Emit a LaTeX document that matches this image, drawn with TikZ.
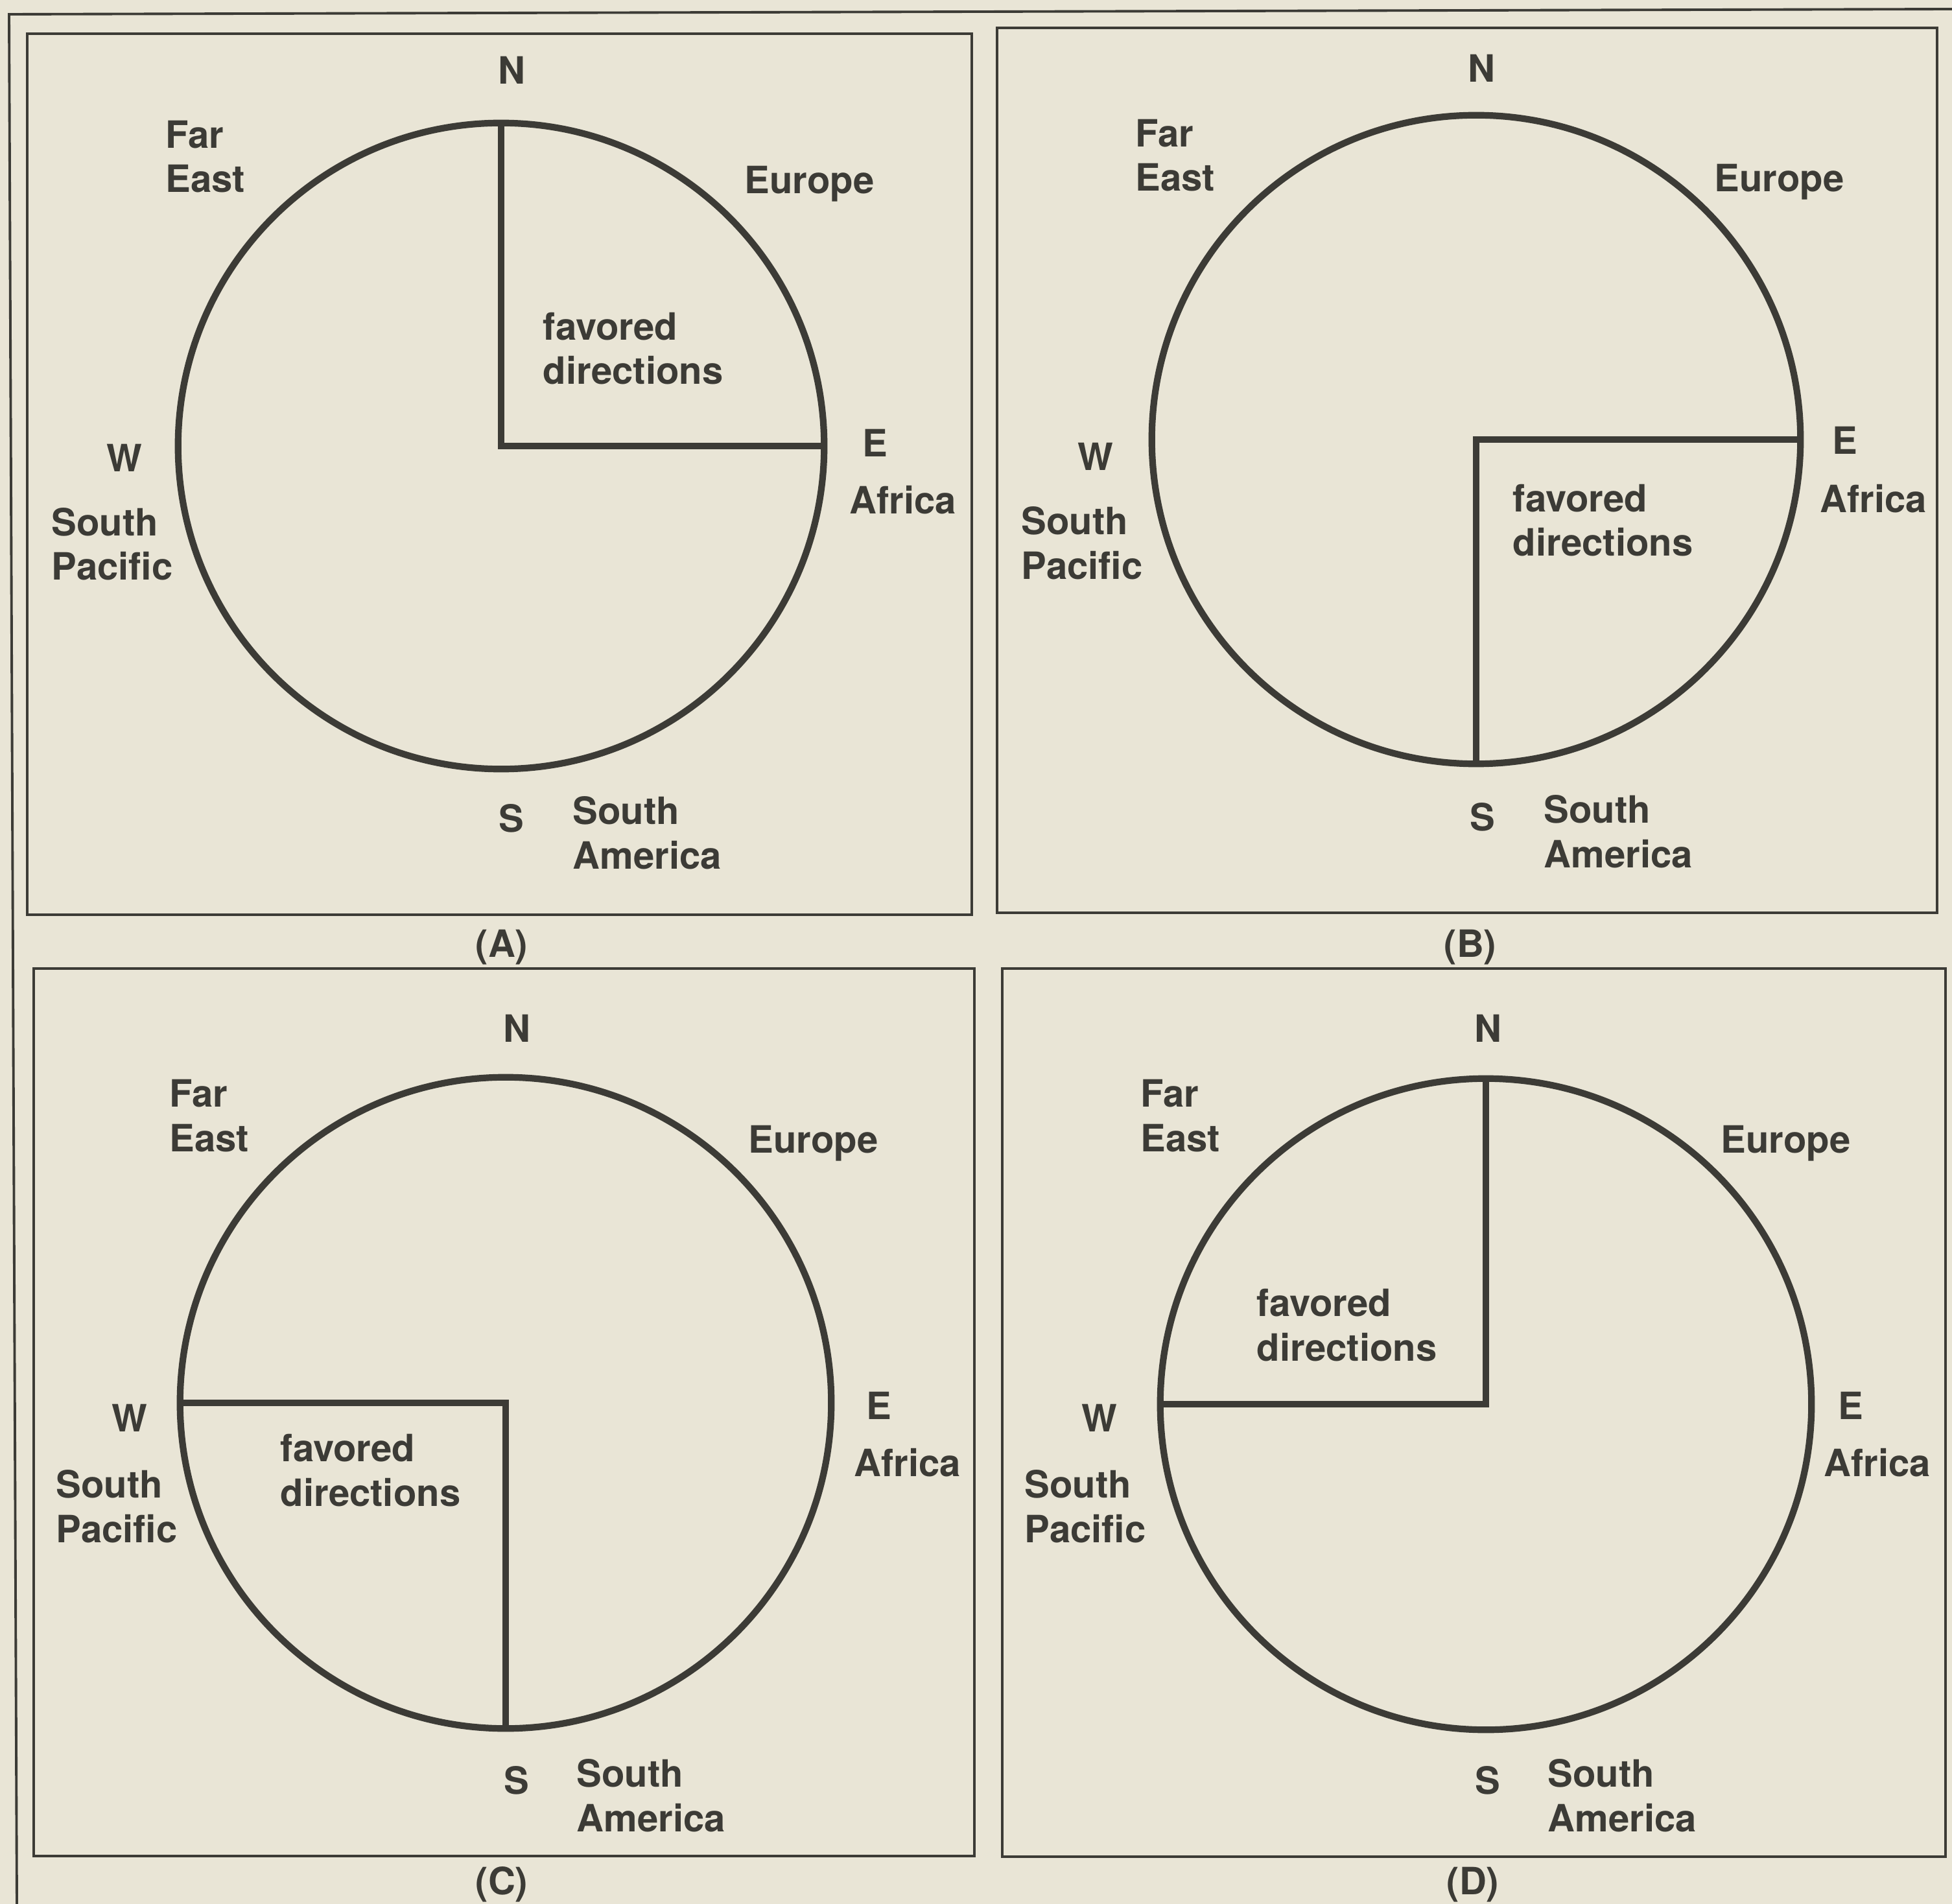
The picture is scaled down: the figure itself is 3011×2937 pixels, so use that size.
\documentclass[tikz,border=0pt]{standalone}
\usepackage{fontspec}
\setmainfont{TeX Gyre Heros}
\definecolor{paper}{RGB}{233,229,214}
\definecolor{ink}{RGB}{60,59,54}
\begin{document}
\begin{tikzpicture}[x=0.01cm,y=-0.01cm,
  lbl/.style={inner sep=0pt, anchor=base, font=\fontsize{16.5}{19.6}\selectfont\bfseries, text=ink},
  lblw/.style={lbl, anchor=base west, align=left},
  panelbox/.style={draw=ink, line width=1.4pt},
  framebox/.style={draw=ink, line width=1.1pt},
  dial/.style={draw=ink, line width=2.9pt},
  sector/.style={draw=ink, line width=2.9pt, line join=miter}]
\fill[paper] (0,0) rectangle (3011,2937);
\useasboundingbox (0,0) rectangle (3011,2937);
% outer frame (top and left edges)
\draw[framebox] (3011,14) -- (14,22) -- (26,2937);
% panel boxes
\draw[panelbox] (42,52) rectangle (1499,1411);
\draw[panelbox] (1538,43) rectangle (2988,1408);
\draw[panelbox] (52,1494) rectangle (1503,2863);
\draw[panelbox] (1546,1494) rectangle (3001,2864);
% panel labels
\node[lbl] (labA) at (774,1476) {(A)};
\node[lbl] (labB) at (2268,1476) {(B)};
\node[lbl] (labC) at (774,2922) {(C)};
\node[lbl] (labD) at (2272,2922) {(D)};

% ---------- Panel A ----------
\coordinate (Ac) at (773,688);
\draw[dial] (Ac) circle[radius=4.98cm];
\draw[sector] (Ac) ++(0,-498) -- (Ac) -- ++(498,0);
\node[lbl] (AN) at (789,130) {N};
\node[lbl] (AE) at (1350,705) {E};
\node[lbl] (AW) at (192,728) {W};
\node[lbl] (AS) at (789,1283) {S};
\node[lblw] (Afe) at (255,297) {Far\\East};
\node[lblw] (Aeu) at (1148,299) {Europe};
\node[lblw] (Aaf) at (1310,793) {Africa};
\node[lblw] (Asp) at (79,895) {South\\Pacific};
\node[lblw] (Asa) at (883,1340) {South\\America};
\node[lblw] (Afd) at (837,593) {favored\\directions};

% ---------- Panel B ----------
\coordinate (Bc) at (2277,678);
\draw[dial] (Bc) circle[radius=5.0cm];
\draw[sector] (Bc) ++(500,0) -- (Bc) -- ++(0,500);
\node[lbl] (BN) at (2285,127) {N};
\node[lbl] (BE) at (2846,701) {E};
\node[lbl] (BW) at (1690,726) {W};
\node[lbl] (BS) at (2287,1281) {S};
\node[lblw] (Bfe) at (1751,295) {Far\\East};
\node[lblw] (Beu) at (2644,296) {Europe};
\node[lblw] (Baf) at (2807,791) {Africa};
\node[lblw] (Bsp) at (1575,893) {South\\Pacific};
\node[lblw] (Bsa) at (2381,1338) {South\\America};
\node[lblw] (Bfd) at (2333,858) {favored\\directions};

% ---------- Panel C ----------
\coordinate (Cc) at (780,2164);
\draw[dial] (Cc) circle[radius=5.02cm];
\draw[sector] (Cc) ++(-502,0) -- (Cc) -- ++(0,502);
\node[lbl] (CN) at (797,1607) {N};
\node[lbl] (CE) at (1356,2189) {E};
\node[lbl] (CW) at (200,2208) {W};
\node[lbl] (CS) at (797,2767) {S};
\node[lblw] (Cfe) at (261,1776) {Far\\East};
\node[lblw] (Ceu) at (1154,1778) {Europe};
\node[lblw] (Caf) at (1317,2277) {Africa};
\node[lblw] (Csp) at (86,2379) {South\\Pacific};
\node[lblw] (Csa) at (889,2825) {South\\America};
\node[lblw] (Cfd) at (432,2323) {favored\\directions};

% ---------- Panel D ----------
\coordinate (Dc) at (2292,2166);
\draw[dial] (Dc) circle[radius=5.02cm];
\draw[sector] (Dc) ++(0,-502) -- (Dc) -- ++(-502,0);
\node[lbl] (DN) at (2295,1607) {N};
\node[lbl] (DE) at (2855,2189) {E};
\node[lbl] (DW) at (1696,2208) {W};
\node[lbl] (DS) at (2295,2767) {S};
\node[lblw] (Dfe) at (1759,1776) {Far\\East};
\node[lblw] (Deu) at (2654,1778) {Europe};
\node[lblw] (Daf) at (2813,2277) {Africa};
\node[lblw] (Dsp) at (1580,2379) {South\\Pacific};
\node[lblw] (Dsa) at (2387,2825) {South\\America};
\node[lblw] (Dfd) at (1938,2099) {favored\\directions};
\end{tikzpicture}
\end{document}
